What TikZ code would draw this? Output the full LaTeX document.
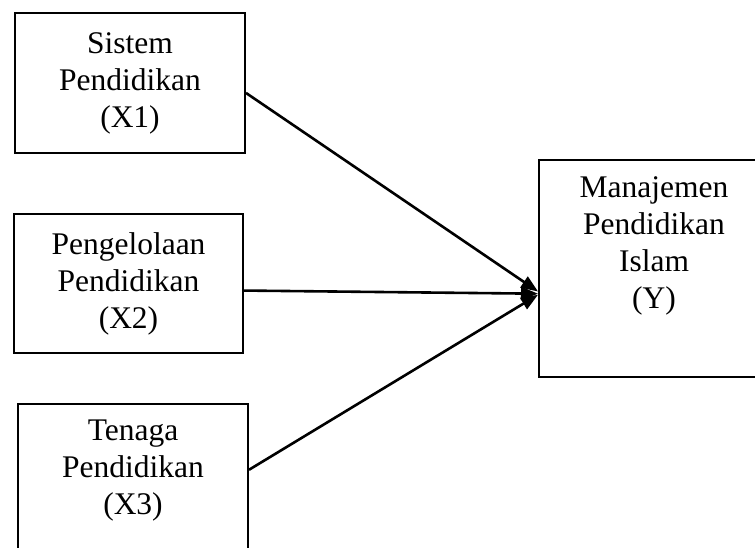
\documentclass[tikz,border=0pt]{standalone}
\usepackage{fontspec}
\setmainfont{Liberation Serif}
\usetikzlibrary{arrows.meta,calc}
\begin{document}
\begin{tikzpicture}[x=1pt,y=-1pt,
  boxstyle/.style={draw=black,line width=2pt,rectangle,inner sep=0pt,anchor=north west},
  labelstyle/.style={align=center,font=\fontsize{31.5}{37}\selectfont,inner sep=0pt},
  arrowstyle/.style={line width=2.6pt,-{Triangle[length=17pt,width=13pt]}}]
\useasboundingbox (0,0) rectangle (755,547);
\clip (0,0) rectangle (755,547);
% boxes
\node[boxstyle,minimum width=230pt,minimum height=140pt] (x1) at (14,12) {};
\node[boxstyle,minimum width=229pt,minimum height=139pt] (x2) at (13,213) {};
\node[boxstyle,minimum width=230pt,minimum height=157pt] (x3) at (17,403) {};
\node[boxstyle,minimum width=232pt,minimum height=217pt] (y) at (538,159) {};
% texts
\node[labelstyle] (t1) at (x1.center) {Sistem\\Pendidikan\\(X1)};
\node[labelstyle] (t2) at (x2.center) {Pengelolaan\\Pendidikan\\(X2)};
\node[labelstyle] (t3) at ($(x3.north)+(0,68)$) {Tenaga\\Pendidikan\\(X3)};
\node[labelstyle] (ty) at (654,246) {Manajemen\\Pendidikan\\Islam\\(Y)};
% connector points
\coordinate (s1) at ($(x1.north east)!0.57!(x1.south east)$);
\coordinate (s2) at ($(x2.north east)!0.55!(x2.south east)$);
\coordinate (s3) at ($(x3.north east)!0.42!(x3.south east)$);
\coordinate (e1) at ($(y.north west)!0.605!(y.south west)$);
\coordinate (e2) at ($(y.north west)!0.615!(y.south west)$);
\coordinate (e3) at ($(y.north west)!0.62!(y.south west)$);
\draw[arrowstyle] (s1) -- (e1);
\draw[arrowstyle] (s2) -- (e2);
\draw[arrowstyle] (s3) -- (e3);
\end{tikzpicture}
\end{document}
